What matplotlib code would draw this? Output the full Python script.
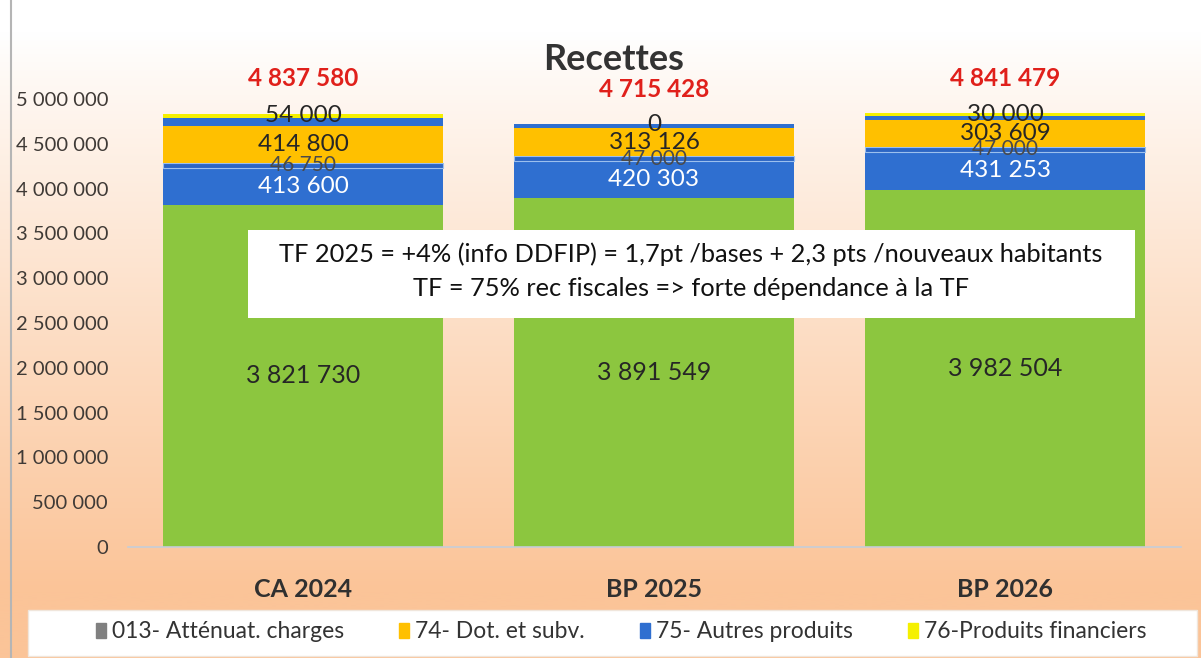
import numpy as np
import matplotlib
matplotlib.use("Agg")
import matplotlib.pyplot as plt
from matplotlib.patches import Rectangle, Patch
from matplotlib.lines import Line2D
from matplotlib.ticker import FuncFormatter

plt.rcParams['font.family'] = ['Lato', 'DejaVu Sans']

# donnees
annees = ["CA 2024", "BP 2025", "BP 2026"]
impots = [3821730, 3891549, 3982504]        # base verte
autres_produits = [413600, 420303, 431253]  # 75
attenuat = [46750, 47000, 47000]            # 013
dotations = [414800, 313126, 303609]        # 74
divers = [86700, 43450, 47113]              # fine bande bleue sans etiquette
financiers = [54000, 0, 30000]              # 76

vert = "#8cc63f"
bleu = "#2f6fd0"
orange = "#ffc000"
jaune = "#f5f000"
gris = "#808080"


def fmt(v, pos=None):
    return f"{int(v):,}".replace(",", " ")


W, H = 1201, 658
fig = plt.figure(figsize=(W / 100, H / 100), dpi=100)

# fond degrade blanc -> peche
bg = fig.add_axes([0, 0, 1, 1], zorder=0)
grad = np.linspace(0, 1, 256)
grad = np.clip((grad - 0.05) / 0.85, 0, 1) ** 0.9
top = np.array([1.0, 1.0, 1.0])
bot = np.array([251, 196, 152]) / 255
img = top[None, :] * (1 - grad[:, None]) + bot[None, :] * grad[:, None]
bg.imshow(img[:, None, :], aspect="auto", extent=[0, 1, 1, 0])
bg.set_axis_off()

ax = fig.add_axes([127.5 / W, (H - 547) / H, 1053 / W, 448 / H], zorder=1)
ax.patch.set_alpha(0)

x = np.arange(len(annees))
largeur = 0.8
b0 = np.array(impots)
b1 = b0 + np.array(autres_produits)
b2 = b1 + np.array(attenuat)
b3 = b2 + np.array(dotations)
b4 = b3 + np.array(divers)
total = b4 + np.array(financiers)

ax.bar(x, impots, largeur, color=vert)
ax.bar(x, autres_produits, largeur, bottom=b0, color=bleu)
ax.bar(x, attenuat, largeur, bottom=b1, color="#2c66c4", edgecolor="#9cc0ee", linewidth=0.8)
ax.bar(x, dotations, largeur, bottom=b2, color=orange)
ax.bar(x, divers, largeur, bottom=b3, color=bleu)
ax.bar(x, financiers, largeur, bottom=b4, color=jaune)

txt = "#262626"
for i in range(len(annees)):
    ax.text(x[i], impots[i] / 2, fmt(impots[i]), ha="center", va="center", fontsize=18, color=txt)
    ax.text(x[i], b1[i] + attenuat[i] / 2, fmt(attenuat[i]), ha="center", va="center",
            fontsize=15, color="#4a4a4a")
    ax.text(x[i], b0[i] + autres_produits[i] / 2, fmt(autres_produits[i]), ha="center", va="center",
            fontsize=17.5, color="white")
    ax.text(x[i], b2[i] + dotations[i] / 2, fmt(dotations[i]), ha="center", va="center",
            fontsize=17.5, color=txt)
    ax.text(x[i], b4[i] + financiers[i] / 2, fmt(financiers[i]), ha="center", va="center",
            fontsize=17.5, color=txt)
    ax.annotate(fmt(total[i]), (x[i], total[i]), xytext=(0, 25), textcoords="offset points",
                ha="center", va="center", fontsize=17.5, fontweight="bold", color="#e0201b",
                annotation_clip=False)

ax.set_xlim(-0.5, 2.5)
ax.set_ylim(0, 5000000)
ax.set_yticks(np.arange(0, 5000001, 500000))
ax.yaxis.set_major_formatter(FuncFormatter(fmt))
ax.set_xticks(x)
ax.set_xticklabels(annees, fontsize=18, fontweight="bold", color="#303030")
ax.tick_params(axis="y", length=0, pad=14, labelsize=14.5, labelcolor="#3f3a36")
ax.tick_params(axis="x", length=0, pad=22)
for s in ["top", "right", "left"]:
    ax.spines[s].set_visible(False)
ax.spines["bottom"].set_color("#c5cdd8")
ax.spines["bottom"].set_linewidth(1.2)

fig.text(614 / W, 1 - 60 / H, "Recettes", ha="center", va="center", fontsize=26,
         fontweight="bold", color="#333333")

# encadre de commentaire
fig.add_artist(Rectangle((248 / W, 1 - 318 / H), 887 / W, 88 / H, transform=fig.transFigure,
                         facecolor="white", edgecolor="none", zorder=5))
fig.text(691 / W, 1 - 254 / H, "TF 2025 = +4% (info DDFIP) = 1,7pt /bases + 2,3 pts /nouveaux habitants",
         ha="center", va="center", fontsize=18.3, color="#111111", zorder=6)
fig.text(691 / W, 1 - 289 / H, "TF = 75% rec fiscales => forte dépendance à la TF",
         ha="center", va="center", fontsize=18.3, color="#111111", zorder=6)

# legende
fig.add_artist(Rectangle((28 / W, 1 - 656 / H), 1169 / W, 46 / H, transform=fig.transFigure,
                         facecolor="white", edgecolor="#f0e6dc", zorder=5))
handles = [Patch(color=gris), Patch(color=orange), Patch(color=bleu), Patch(color=jaune)]
labels = ["013- Atténuat. charges", "74- Dot. et subv.", "75- Autres produits", "76-Produits financiers"]
leg = fig.legend(handles, labels, loc="center", bbox_to_anchor=(621 / W, 1 - 632 / H), ncol=4,
                 frameon=False, fontsize=16.5, handlelength=0.45, handleheight=0.65,
                 handletextpad=0.25, columnspacing=2.4)
leg.set_zorder(6)
for t in leg.get_texts():
    t.set_color("#333333")

fig.add_artist(Line2D([11 / W, 11 / W], [0, 1], transform=fig.transFigure, color="#b5b5b5", lw=1.5))

fig.savefig("out.png", dpi=100)
